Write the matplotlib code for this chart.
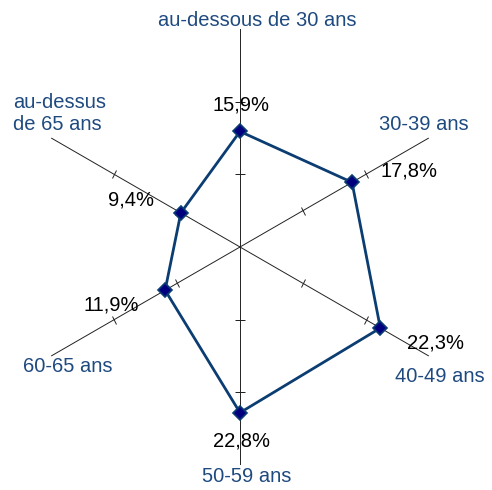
import numpy as np
import matplotlib.pyplot as plt
from matplotlib.markers import MarkerStyle
from matplotlib.transforms import Affine2D

plt.rcParams['font.family'] = ['Liberation Sans', 'DejaVu Sans']

categories = ["au-dessous de 30 ans", "30-39 ans", "40-49 ans",
              "50-59 ans", "60-65 ans", "au-dessus\nde 65 ans"]
values = [15.9, 17.8, 22.3, 22.8, 11.9, 9.4]
value_labels = ["15,9%", "17,8%", "22,3%", "22,8%", "11,9%", "9,4%"]
r_max = 30
tick_values = [10, 20]

# label offsets in pixels (layout only)
val_off = [(1, 26), (57, 11), (55, -15), (1, -28), (-54, -15), (-50, 13)]
cat_off = [(17, 8), (-5, 14), (11, -21), (7, -11), (17, -10), (-38, 25)]
cat_ha = ['center', 'center', 'center', 'center', 'center', 'left']

line_col = '#0B3D72'
text_col = '#1F4A80'

n = len(categories)
theta = np.arange(n) * 2 * np.pi / n

fig = plt.figure(figsize=(4.92, 4.90), dpi=100)
W, H = 492, 490
cx, cy, R = 240, 247, 218
ax = fig.add_axes([(cx - R) / W, (H - cy - R) / H, 2 * R / W, 2 * R / H],
                  projection='polar')
ax.set_theta_offset(np.pi / 2)
ax.set_theta_direction(-1)
ax.set_ylim(0, r_max)
ax.grid(False)
ax.set_xticks([])
ax.set_yticks([])
ax.spines['polar'].set_visible(False)
ax.patch.set_alpha(0)

for i, t in enumerate(theta):
    ax.plot([t, t], [0, r_max], color='#222222', lw=0.7, zorder=1)
    # screen angle of this axis
    ang = 90 - np.degrees(t)
    m = MarkerStyle('|', transform=Affine2D().rotate_deg(ang))
    ax.plot([t] * len(tick_values), tick_values, ls='none', marker=m,
            ms=7, mew=0.7, color='#222222', zorder=1)

th_closed = np.append(theta, theta[0])
v_closed = np.append(values, values[0])
ax.plot(th_closed, v_closed, color=line_col, lw=2, zorder=3)
ax.plot(theta, values, ls='none', marker='D', ms=7, mfc='#00007F',
        mec=line_col, mew=1.2, zorder=4)

for i, t in enumerate(theta):
    ax.annotate(value_labels[i], xy=(t, values[i]), xytext=val_off[i],
                textcoords='offset pixels', ha='center', va='center',
                fontsize=14.5, color='black', zorder=5)
    ax.annotate(categories[i], xy=(t, r_max), xytext=cat_off[i],
                textcoords='offset pixels', ha=cat_ha[i], va='center',
                fontsize=14.5, color=text_col, linespacing=1.2,
                annotation_clip=False, zorder=5)

fig.savefig('out.png', dpi=100)
